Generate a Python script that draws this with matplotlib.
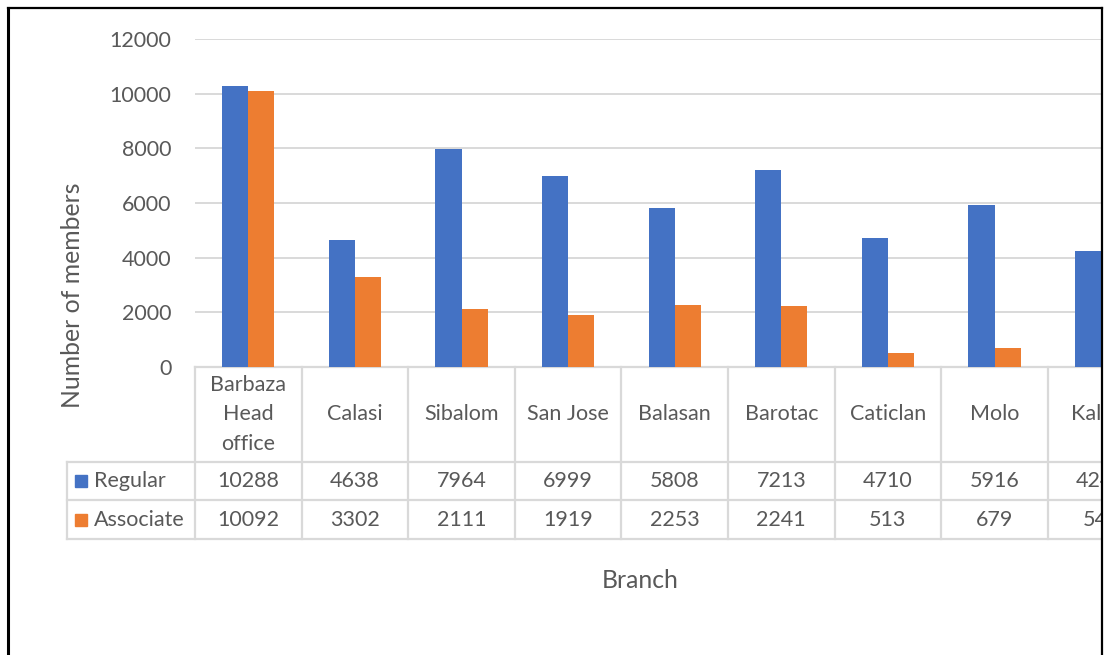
import matplotlib.pyplot as plt
from matplotlib.lines import Line2D

plt.rcParams['font.family'] = ['Lato', 'DejaVu Sans']

# Member counts per branch
branches = ['Barbaza\nHead\noffice', 'Calasi', 'Sibalom', 'San Jose', 'Balasan',
            'Barotac', 'Caticlan', 'Molo', 'Kalibo']
regular = [10288, 4638, 7964, 6999, 5808, 7213, 4710, 5916, 4244]
associate = [10092, 3302, 2111, 1919, 2253, 2241, 513, 679, 542]
series = ['Regular', 'Associate']

blue = '#4472C4'
orange = '#ED7D31'
grey_txt = '#595959'
line_c = '#D9D9D9'
fs = 15.5

W, H = 1104, 655
fig = plt.figure(figsize=(W / 100, H / 100), dpi=100)

# plot area in pixels: left 195, zero at y=367, 12000 at y=39, category width ~106.6
cat_w = 106.6
n = len(branches)
ax = fig.add_axes([195 / W, (H - 367) / H, n * cat_w / W, 328 / H])

x = list(range(n))
bw = 0.245
ax.bar([i - bw / 2 for i in x], regular, width=bw, color=blue, zorder=3)
ax.bar([i + bw / 2 for i in x], associate, width=bw, color=orange, zorder=3)

ax.set_xlim(-0.5, n - 0.5)
ax.set_ylim(0, 12000)
ax.set_yticks(range(0, 12001, 2000))
ax.tick_params(axis='y', length=0, pad=17, labelsize=fs, labelcolor=grey_txt)
ax.set_xticks([])
ax.yaxis.grid(True, color=line_c, linewidth=1.4, zorder=0)
for s in ax.spines.values():
    s.set_visible(False)

# data table under the bars (x in data units, y in axes fraction)
tr = ax.get_xaxis_transform()
px = 1 / 328
y_head = -95 * px
y_reg = -133 * px
y_asc = -172 * px
x_left = (67 - 195) / cat_w - 0.5

lk = dict(color=line_c, linewidth=1.6, transform=tr, clip_on=False, zorder=2)
for b in range(n + 1):
    ax.plot([b - 0.5, b - 0.5], [0, y_asc], **lk)
ax.plot([x_left, x_left], [y_head, y_asc], **lk)
for yy in (y_head, y_reg, y_asc):
    ax.plot([x_left, n - 0.5], [yy, yy], **lk)
ax.plot([-0.5, n - 0.5], [0, 0], **lk)

tk = dict(transform=tr, clip_on=False, fontsize=fs, color=grey_txt, va='center')
for i, name in enumerate(branches):
    ax.text(i, -47.5 * px, name, ha='center', linespacing=1.62, **tk)
    ax.text(i, (y_head + y_reg) / 2, str(regular[i]), ha='center', **tk)
    ax.text(i, (y_reg + y_asc) / 2, str(associate[i]), ha='center', **tk)

x_mark = (81 - 195) / cat_w - 0.5
x_lab = (94 - 195) / cat_w - 0.5
for label, col, yy in zip(series, [blue, orange],
                          [(y_head + y_reg) / 2, (y_reg + y_asc) / 2]):
    ax.plot([x_mark], [yy], marker='s', ms=8.6, color=col, linestyle='none',
            transform=tr, clip_on=False)
    ax.text(x_lab, yy, label, ha='left', **tk)

# axis titles
fig.text(72 / W, 1 - 295 / H, 'Number of members', rotation=90, ha='center',
         va='center', fontsize=17.8, color=grey_txt)
fig.text(640 / W, 1 - 580 / H, 'Branch', ha='center', va='center',
         fontsize=17.8, color=grey_txt)

# outer frame
frame = fig.add_axes([0, 0, 1, 1], zorder=10)
frame.set_xlim(0, W)
frame.set_ylim(H, 0)
frame.axis('off')
frame.patch.set_alpha(0)
frame.add_line(Line2D([8, 8], [8, H], color='black', linewidth=2.2))
frame.add_line(Line2D([8, 1102], [8, 8], color='black', linewidth=1.6))
frame.add_line(Line2D([1102, 1102], [8, H], color='black', linewidth=1.6))
frame.fill_between([1103, W], 0, H, color='white')

fig.savefig('out.png', dpi=100)
